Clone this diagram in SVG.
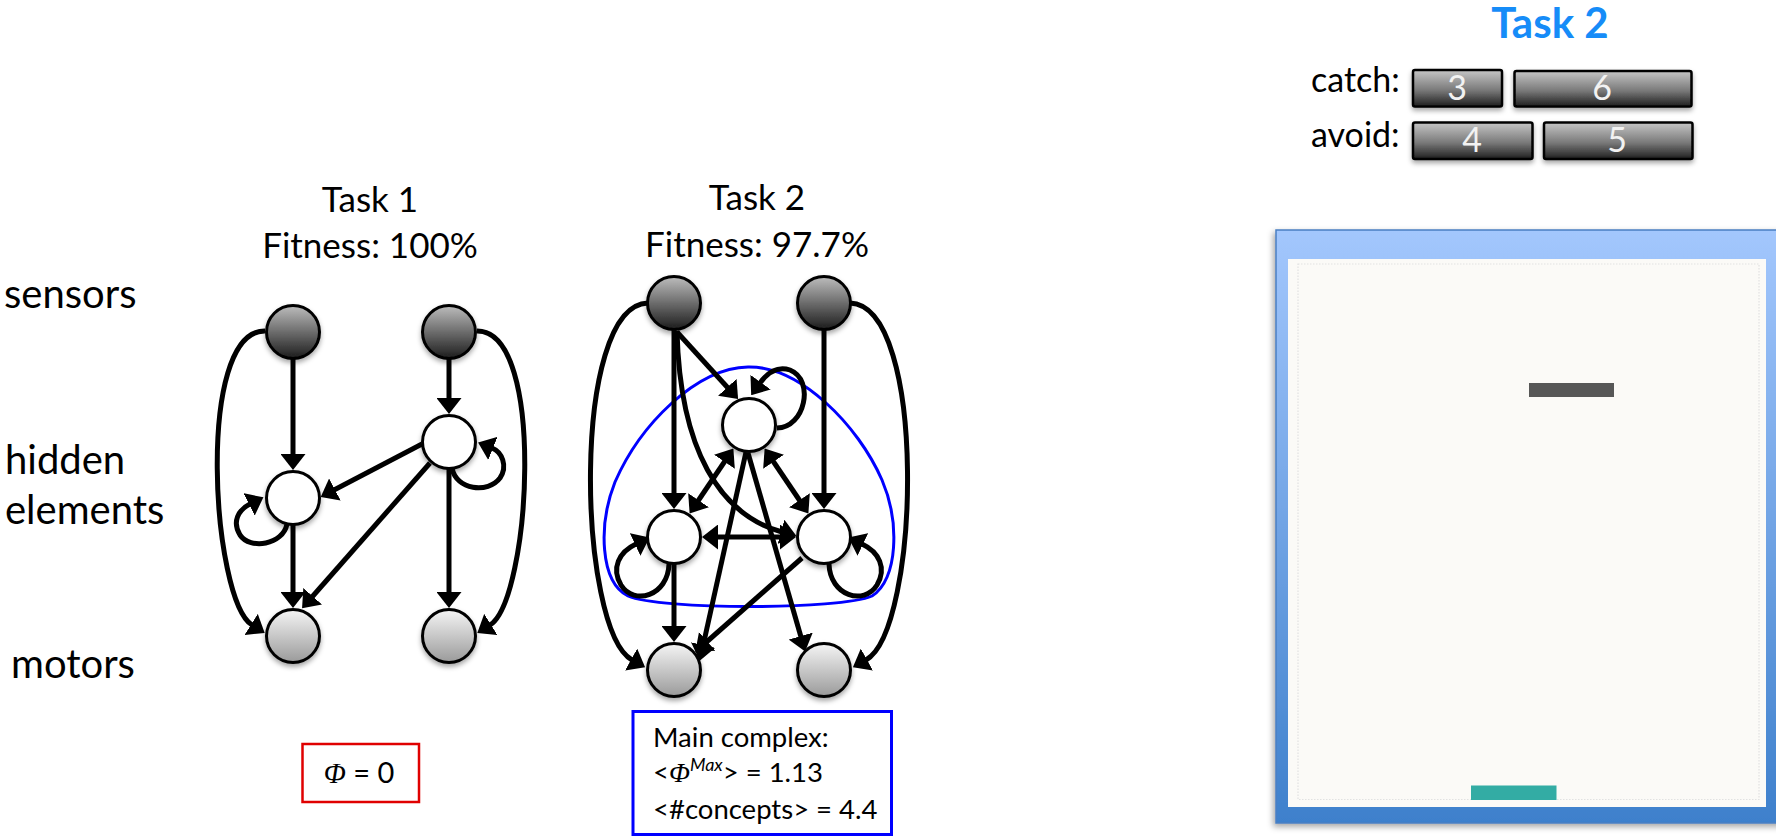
<svg xmlns="http://www.w3.org/2000/svg" width="1776" height="836" viewBox="0 0 1776 836">
  <defs>
    <linearGradient id="gSensor" x1="0" y1="0" x2="0" y2="1">
      <stop offset="0" stop-color="#bdbdbd"/>
      <stop offset="1" stop-color="#1c1c1c"/>
    </linearGradient>
    <linearGradient id="gMotor" x1="0" y1="0" x2="0" y2="1">
      <stop offset="0" stop-color="#f5f5f5"/>
      <stop offset="1" stop-color="#9a9a9a"/>
    </linearGradient>
    <linearGradient id="gBar" x1="0" y1="0" x2="0" y2="1">
      <stop offset="0" stop-color="#c6c6c6"/>
      <stop offset="0.55" stop-color="#7a7a7a"/>
      <stop offset="1" stop-color="#1e1e1e"/>
    </linearGradient>
    <linearGradient id="gFrame" x1="0" y1="0" x2="0" y2="1">
      <stop offset="0" stop-color="#a3c7fd"/>
      <stop offset="1" stop-color="#3e80cc"/>
    </linearGradient>
    <filter id="shadow" x="-40%" y="-40%" width="180%" height="190%">
      <feDropShadow dx="0" dy="3" stdDeviation="2.5" flood-color="#000" flood-opacity="0.35"/>
    </filter>
    <filter id="frameShadow" x="-10%" y="-10%" width="130%" height="130%">
      <feDropShadow dx="-2" dy="3" stdDeviation="3" flood-color="#000" flood-opacity="0.35"/>
    </filter>
    <marker id="arrow" viewBox="0 0 16 25" refX="1" refY="12.5" markerWidth="16" markerHeight="25" markerUnits="userSpaceOnUse" orient="auto-start-reverse">
      <path d="M0,0 L16,12.5 L0,25 Z" fill="#000"/>
    </marker>
  </defs>
  <style>
    .t { font-family: Lato, "Liberation Sans", sans-serif; fill: #000; }
    .side { font-size: 40px; }
    .head { font-size: 35px; text-anchor: middle; }
    .box { font-size: 27.5px; }
    .phi { font-family: "Liberation Serif", "DejaVu Serif", serif; font-style: italic; }
    .sup { font-style: italic; font-size: 18px; }
    .edge { fill: none; stroke: #000; stroke-width: 5; marker-end: url(#arrow); }
    .bi { marker-start: url(#arrow); }
    .node { stroke: #000; stroke-width: 3; filter: url(#shadow); }
    .sensor { fill: url(#gSensor); }
    .hidden { fill: #fff; }
    .motor { fill: url(#gMotor); }
    .bar { fill: url(#gBar); stroke: #000; stroke-width: 2.5; filter: url(#shadow); }
    .num { font-family: Lato, "Liberation Sans", sans-serif; font-size: 34px; fill: #f2f2f2; text-anchor: middle; }
  </style>

  <rect width="1776" height="836" fill="#fff"/>

  <!-- row labels -->
  <g id="row-labels">
    <text class="t side" x="4" y="308">sensors</text>
    <text class="t side" x="5" y="474">hidden</text>
    <text class="t side" x="5" y="524">elements</text>
    <text class="t side" x="11" y="678">motors</text>
  </g>

  <!-- network headers -->
  <g id="header-task1">
    <text class="t head" x="370" y="212">Task 1</text>
    <text class="t head" x="370" y="258">Fitness: 100%</text>
  </g>
  <g id="header-task2">
    <text class="t head" x="757" y="210">Task 2</text>
    <text class="t head" x="757" y="257">Fitness: 97.7%</text>
  </g>

  <!-- main complex boundary of the task 2 network -->
  <g id="main-complex-outline">
    <path d="M748,367 C800,366 858,425 882,480 C900,522 898,580 872,596 C840,610 660,610 628,596 C600,582 598,525 615,482 C640,425 696,368 748,367 Z" fill="none" stroke="#0000ff" stroke-width="3"/>
  </g>

  <!-- connectors -->
  <g id="connectors">
    <!-- task 1 network -->
    <path class="edge" d="M293,359 L293,455"/>
    <path class="edge" d="M449,359 L449,399"/>
    <path class="edge" d="M293,525 L293,593"/>
    <path class="edge" d="M449,469 L449,593"/>
    <path class="edge" d="M422,444 L334,490"/>
    <path class="edge" d="M430,463 L312,597"/>
    <path class="edge" d="M287,524 C283,545 250,550 240,535 C232,522 238,510 250,504"/>
    <path class="edge" d="M452,468 C456,490 488,494 500,478 C508,466 502,452 492,448"/>
    <path class="edge" d="M265,331 C195,330 212,600 252,625"/>
    <path class="edge" d="M477,331 C547,330 530,600 490,625"/>

    <!-- task 2 network -->
    <path class="edge" d="M674,330 L674,494"/>
    <path class="edge" d="M824,330 L824,494"/>
    <path class="edge" d="M674,564 L674,627"/>
    <path class="edge" d="M677,332 L728,388"/>
    <path class="edge" d="M777,428 C805,428 815,380 790,370 C778,366 768,372 760,383"/>
    <path class="edge" d="M677,331 C680,450 720,515 782,532"/>
    <path class="edge bi" d="M698,501 L725,461"/>
    <path class="edge bi" d="M800,501 L773,461"/>
    <path class="edge bi" d="M717,537 L781,537"/>
    <path class="edge" d="M746,452 L703,646"/>
    <path class="edge" d="M802,558 L706.5,642"/>
    <path class="edge" d="M748,453 L801,637"/>
    <path class="edge" d="M669,564 C668,596 634,606 621,585 C611,568 619,552 636,544"/>
    <path class="edge" d="M829,564 C830,596 864,606 877,585 C887,568 879,552 862,544"/>
    <path class="edge" d="M648,303 C570,305 578,630 632,660"/>
    <path class="edge" d="M850,303 C928,305 920,630 866,660"/>
  </g>

  <!-- task 1 nodes -->
  <g id="t1-sensor-left"><circle class="node sensor" cx="293" cy="332" r="26.5"/></g>
  <g id="t1-sensor-right"><circle class="node sensor" cx="449" cy="332" r="26.5"/></g>
  <g id="t1-hidden-left"><circle class="node hidden" cx="293" cy="498" r="26.5"/></g>
  <g id="t1-hidden-right"><circle class="node hidden" cx="449" cy="442" r="26.5"/></g>
  <g id="t1-motor-left"><circle class="node motor" cx="293" cy="636" r="26.5"/></g>
  <g id="t1-motor-right"><circle class="node motor" cx="449" cy="636" r="26.5"/></g>

  <!-- task 2 nodes -->
  <g id="t2-sensor-left"><circle class="node sensor" cx="674" cy="303" r="26.5"/></g>
  <g id="t2-sensor-right"><circle class="node sensor" cx="824" cy="303" r="26.5"/></g>
  <g id="t2-hidden-top"><circle class="node hidden" cx="749" cy="425" r="26.5"/></g>
  <g id="t2-hidden-left"><circle class="node hidden" cx="674" cy="537" r="26.5"/></g>
  <g id="t2-hidden-right"><circle class="node hidden" cx="824" cy="537" r="26.5"/></g>
  <g id="t2-motor-left"><circle class="node motor" cx="674" cy="670" r="26.5"/></g>
  <g id="t2-motor-right"><circle class="node motor" cx="824" cy="670" r="26.5"/></g>

  <!-- integrated information readouts -->
  <g id="phi-task1">
    <rect x="302.5" y="744" width="116.5" height="58" fill="#fff" stroke="#e00000" stroke-width="2.5"/>
    <text class="t" x="359" y="783" font-size="29" text-anchor="middle"><tspan class="phi">Φ</tspan> = 0</text>
  </g>
  <g id="phi-task2">
    <rect x="633" y="711.5" width="258.5" height="123" fill="#fff" stroke="#0000ff" stroke-width="3"/>
    <text class="t box" x="653" y="747">Main complex:</text>
    <text class="t box" x="653" y="782">&lt;<tspan class="phi">Φ</tspan><tspan class="sup" dy="-11">Max</tspan><tspan dy="11">&gt; = 1.13</tspan></text>
    <text class="t box" x="653" y="819">&lt;#concepts&gt; = 4.4</text>
  </g>

  <!-- task legend -->
  <g id="task-legend">
    <text x="1550" y="38" font-family="Lato, 'Liberation Sans', sans-serif" font-weight="bold" font-size="42" fill="#168cf8" text-anchor="middle">Task 2</text>
    <text class="t" x="1311" y="92" font-size="34">catch:</text>
    <text class="t" x="1311" y="147" font-size="34">avoid:</text>
    <rect class="bar" x="1413" y="70" width="89" height="36.5" rx="2"/>
    <rect class="bar" x="1514.5" y="71" width="177" height="35.5" rx="2"/>
    <rect class="bar" x="1413" y="122.5" width="119.5" height="36.5" rx="2"/>
    <rect class="bar" x="1544" y="122.5" width="148.5" height="36.5" rx="2"/>
    <text class="num" x="1457" y="100">3</text>
    <text class="num" x="1602" y="100">6</text>
    <text class="num" x="1472" y="152">4</text>
    <text class="num" x="1617" y="152">5</text>
  </g>

  <!-- game window -->
  <g id="game-window">
    <rect x="1276" y="230" width="520" height="593" fill="url(#gFrame)" stroke="#4a7fc2" stroke-width="1.5" filter="url(#frameShadow)"/>
    <rect x="1288" y="259" width="478" height="548" fill="#fbfaf7"/>
    <rect x="1298" y="264" width="461" height="535.5" fill="none" stroke="#e2e2e2" stroke-width="1.2" stroke-dasharray="1.5 1.5"/>
    <rect x="1529" y="383" width="85" height="14" fill="#575757"/>
    <rect x="1471" y="785.5" width="85.5" height="14.5" fill="#33aca4"/>
  </g>
</svg>
